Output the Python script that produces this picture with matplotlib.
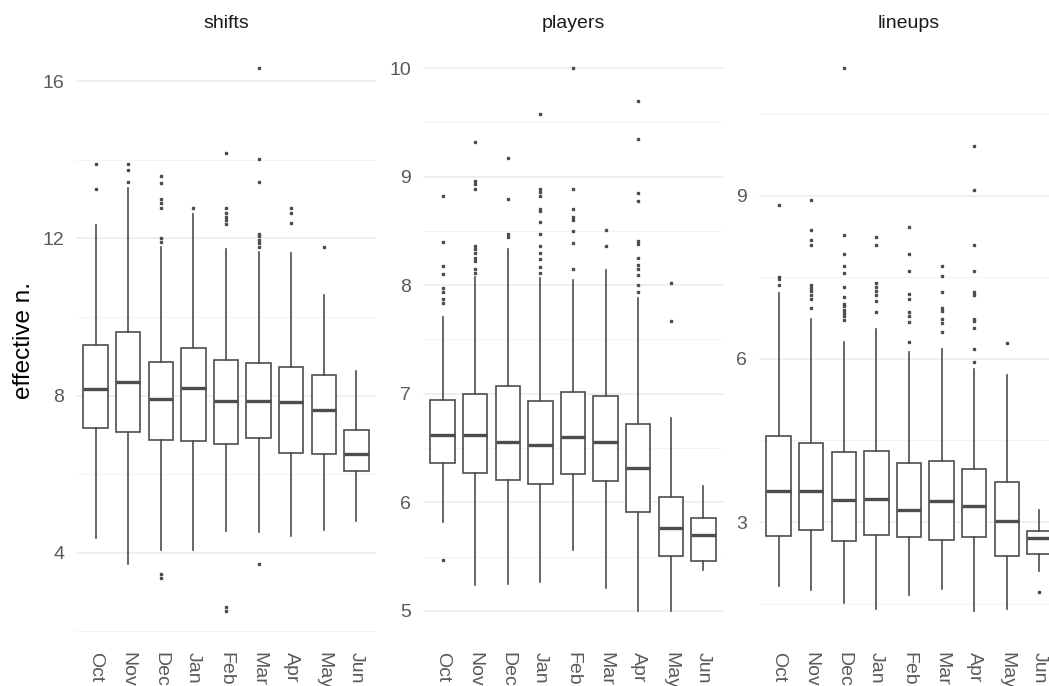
import matplotlib
matplotlib.use("Agg")
import matplotlib.pyplot as plt

plt.rcParams['font.family'] = ['Liberation Sans', 'DejaVu Sans']

months = ["Oct", "Nov", "Dec", "Jan", "Feb", "Mar", "Apr", "May", "Jun"]

# shifts
shifts_q1 = [7.17, 7.07, 6.88, 6.85, 6.77, 6.92, 6.54, 6.51, 6.09]
shifts_med = [8.17, 8.34, 7.92, 8.19, 7.85, 7.85, 7.83, 7.64, 6.50]
shifts_q3 = [9.29, 9.61, 8.85, 9.20, 8.91, 8.82, 8.72, 8.53, 7.13]
shifts_lo = [4.38, 3.70, 4.07, 4.07, 4.55, 4.52, 4.43, 4.59, 4.80]
shifts_hi = [12.33, 13.28, 11.77, 12.61, 11.74, 11.66, 11.62, 10.56, 8.63]
shifts_out = [
    [13.88, 13.26],
    [13.88, 13.75, 13.43],
    [13.58, 13.40, 13.01, 12.89, 12.76, 12.02, 11.91, 3.47, 3.35],
    [12.76],
    [14.16, 12.76, 12.65, 12.55, 12.47, 12.36, 2.63, 2.52],
    [16.33, 14.01, 13.43, 12.12, 12.05, 11.96, 11.88, 11.77, 3.70],
    [12.76, 12.64, 12.38],
    [11.77],
    [],
]

# players
players_q1 = [6.36, 6.27, 6.21, 6.17, 6.26, 6.20, 5.91, 5.51, 5.46]
players_med = [6.62, 6.62, 6.56, 6.53, 6.60, 6.56, 6.32, 5.76, 5.70]
players_q3 = [6.94, 7.00, 7.07, 6.93, 7.02, 6.98, 6.72, 6.05, 5.86]
players_lo = [5.82, 5.24, 5.25, 5.27, 5.56, 5.21, 5.00, 5.00, 5.38]
players_hi = [7.71, 8.08, 8.33, 8.07, 8.05, 8.14, 7.88, 6.78, 6.15]
players_out = [
    [8.82, 8.40, 8.18, 8.10, 7.97, 7.94, 7.87, 7.84, 5.47],
    [9.32, 8.96, 8.93, 8.89, 8.36, 8.33, 8.30, 8.25, 8.22, 8.15, 8.11],
    [9.17, 8.79, 8.47, 8.44],
    [9.58, 8.89, 8.86, 8.82, 8.70, 8.68, 8.58, 8.47, 8.36, 8.30, 8.24, 8.17, 8.11],
    [10.0, 8.89, 8.70, 8.63, 8.60, 8.50, 8.39, 8.15],
    [8.51, 8.36],
    [9.70, 9.35, 8.85, 8.78, 8.41, 8.38, 8.25, 8.19, 8.15, 8.09, 8.00, 7.94],
    [8.02, 7.67],
    [],
]

# lineups
lineups_q1 = [2.75, 2.85, 2.65, 2.76, 2.72, 2.68, 2.72, 2.37, 2.41]
lineups_med = [3.58, 3.57, 3.40, 3.43, 3.23, 3.39, 3.30, 3.02, 2.70]
lineups_q3 = [4.59, 4.45, 4.28, 4.30, 4.08, 4.12, 3.98, 3.74, 2.84]
lineups_lo = [1.82, 1.75, 1.52, 1.40, 1.66, 1.78, 1.37, 1.41, 2.10]
lineups_hi = [7.21, 6.73, 6.30, 6.54, 6.12, 6.18, 5.82, 5.71, 3.22]
lineups_out = [
    [8.83, 7.50, 7.47, 7.36],
    [8.92, 8.37, 8.18, 8.10, 7.36, 7.30, 7.24, 7.18, 7.09, 6.94],
    [11.34, 8.28, 7.93, 7.71, 7.58, 7.32, 7.14, 7.01, 6.97, 6.90, 6.84, 6.78, 6.71],
    [8.24, 8.10, 7.39, 7.32, 7.24, 7.18, 7.06, 6.86],
    [8.42, 7.93, 7.62, 7.20, 7.09, 6.86, 6.79, 6.68, 6.31],
    [7.71, 7.52, 7.23, 6.94, 6.87, 6.73, 6.66, 6.50],
    [9.91, 9.11, 8.10, 7.62, 7.23, 7.17, 6.73, 6.69, 6.57, 6.18, 5.94],
    [6.29],
    [1.72],
]

panels = [
    ("shifts", shifts_q1, shifts_med, shifts_q3, shifts_lo, shifts_hi, shifts_out,
     [4, 8, 12, 16], [2, 6, 10, 14]),
    ("players", players_q1, players_med, players_q3, players_lo, players_hi, players_out,
     [5, 6, 7, 8, 9, 10], [5.5, 6.5, 7.5, 8.5, 9.5]),
    ("lineups", lineups_q1, lineups_med, lineups_q3, lineups_lo, lineups_hi, lineups_out,
     [3, 6, 9], [1.5, 4.5, 7.5, 10.5]),
]

line_col = "#4D4D4D"
W, H = 1049, 686
fig = plt.figure(figsize=(W / 100, H / 100), dpi=100)

lefts = [76, 423, 759]
for left, (name, q1, med, q3, lo, hi, out, major, minor) in zip(lefts, panels):
    ax = fig.add_axes([left / W, 48 / H, 300 / W, 597 / H])
    stats = []
    for i in range(len(months)):
        stats.append(dict(q1=q1[i], med=med[i], q3=q3[i],
                          whislo=lo[i], whishi=hi[i], fliers=out[i]))
    ax.bxp(stats, positions=range(1, len(months) + 1), widths=0.75,
           showcaps=False, patch_artist=True,
           boxprops=dict(facecolor="white", edgecolor=line_col, linewidth=1.2),
           medianprops=dict(color=line_col, linewidth=2.4, solid_capstyle="butt"),
           whiskerprops=dict(color=line_col, linewidth=1.2),
           flierprops=dict(marker="s", markersize=1.8, markerfacecolor=line_col,
                           markeredgecolor=line_col, linestyle="none"))

    # free y scale with 5% padding like facet_wrap(scales = "free_y")
    vals = lo + hi + [v for o in out for v in o]
    ymin, ymax = min(vals), max(vals)
    pad = (ymax - ymin) * 0.05
    ax.set_ylim(ymin - pad, ymax + pad)
    ax.set_xlim(0.4, 9.6)

    ax.set_yticks(major)
    ax.set_yticks(minor, minor=True)
    ax.set_xticks(range(1, len(months) + 1))
    ax.set_xticklabels(months, rotation=-90, va="top", ha="center")
    ax.grid(axis="y", which="major", color="#EBEBEB", linewidth=1.1)
    ax.grid(axis="y", which="minor", color="#F2F2F2", linewidth=0.6)
    ax.grid(axis="x", visible=False)
    ax.set_axisbelow(True)
    for s in ax.spines.values():
        s.set_visible(False)
    ax.tick_params(axis="both", which="both", length=0, labelsize=14,
                   labelcolor="#5A5A5A")
    ax.tick_params(axis="y", pad=8.5)
    ax.tick_params(axis="x", pad=10)
    ax.set_title(name, fontsize=14, color="#1A1A1A", pad=9)

fig.text(24 / W, 1 - 340 / H, "effective n.", rotation=90, fontsize=17.5,
         color="black", ha="center", va="center")

fig.savefig("out.png", dpi=100)
